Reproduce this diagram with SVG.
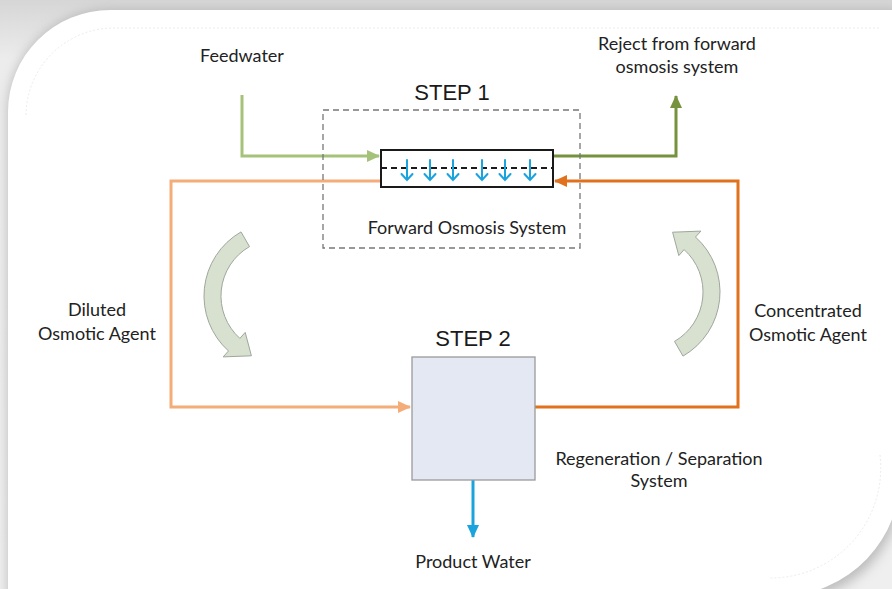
<svg xmlns="http://www.w3.org/2000/svg" width="892" height="589" viewBox="0 0 892 589">
<style>
.lbl{font-family:Lato,"Open Sans","Liberation Sans",sans-serif;font-size:18px;fill:#222;text-anchor:middle}
.step{font-family:"Liberation Sans",Arial,sans-serif;font-size:22px;fill:#1a1a1a;text-anchor:middle}
.conn{fill:none;stroke-width:3}
.curv{fill:#d8e1cf;stroke:#9ea79c;stroke-width:1}
</style>
<defs>
<linearGradient id="bg" x1="0" y1="0" x2="0" y2="1">
<stop offset="0" stop-color="#d6d6d6"/>
<stop offset="0.1" stop-color="#ececec"/>
<stop offset="1" stop-color="#efefef"/>
</linearGradient>
<filter id="sh" x="-10%" y="-10%" width="120%" height="120%">
<feGaussianBlur stdDeviation="6"/>
</filter>
<marker id="mLg" markerUnits="userSpaceOnUse" markerWidth="14" markerHeight="14" refX="12" refY="7" orient="auto"><path d="M0,1 L13,7 L0,13 Z" fill="#a5c27a"/></marker>
<marker id="mDg" markerUnits="userSpaceOnUse" markerWidth="14" markerHeight="14" refX="12" refY="7" orient="auto"><path d="M0,1 L13,7 L0,13 Z" fill="#76923c"/></marker>
<marker id="mLo" markerUnits="userSpaceOnUse" markerWidth="14" markerHeight="14" refX="12" refY="7" orient="auto"><path d="M0,1 L13,7 L0,13 Z" fill="#f4ac78"/></marker>
<marker id="mDo" markerUnits="userSpaceOnUse" markerWidth="14" markerHeight="14" refX="12" refY="7" orient="auto"><path d="M0,1 L13,7 L0,13 Z" fill="#e2711d"/></marker>
<marker id="mB" markerUnits="userSpaceOnUse" markerWidth="14" markerHeight="14" refX="12" refY="7" orient="auto"><path d="M0,1 L13,7 L0,13 Z" fill="#1aa3dd"/></marker>
<path id="curl" d="M241,231.9 A74,74 0 0 0 228.5,351 L223.1,356.9 L251.4,355.8 L245.2,332.4 L239.9,338.4 A57,57 0 0 1 249.5,246.6 Z"/>
</defs>

<g id="background">
<rect x="0" y="0" width="892" height="589" fill="url(#bg)"/>
<path d="M8,112 A102,102 0 0 1 110,10 L900,10 L900,480 A112,112 0 0 1 788,600 L8,600 Z" fill="#9a9a9a" filter="url(#sh)" opacity="0.6"/>
<path d="M8,112 A102,102 0 0 1 110,10 L900,10 L900,470 A120,120 0 0 1 780,596 L8,596 Z" fill="#ffffff"/>
<path d="M26,115 A88,88 0 0 1 112,28 L880,28" fill="none" stroke="#ececec" stroke-width="1" stroke-dasharray="2,2"/>
<path d="M880,455 A110,110 0 0 1 770,578" fill="none" stroke="#ececec" stroke-width="1" stroke-dasharray="2,2"/>
</g>

<g id="connectors">
<path class="conn" d="M242,95 V156 H379" stroke="#a5c27a" marker-end="url(#mLg)"/>
<path class="conn" d="M553,156 H676 V96" stroke="#76923c" marker-end="url(#mDg)"/>
<path class="conn" d="M381,181 H171 V407 H410" stroke="#f4ac78" marker-end="url(#mLo)"/>
<path class="conn" d="M535,407 H738 V181 H555" stroke="#e2711d" marker-end="url(#mDo)"/>
<path class="conn" d="M473,480 V537" stroke="#1aa3dd" marker-end="url(#mB)"/>
</g>

<g id="step1">
<rect x="323" y="110" width="257" height="138" fill="none" stroke="#777" stroke-width="1.3" stroke-dasharray="6,4"/>
<text class="step" x="452" y="100">STEP 1</text>
<text class="lbl" x="467" y="234">Forward Osmosis System</text>
</g>

<g id="fo-module">
<rect x="381" y="150" width="172" height="37" fill="#fff" stroke="#1a1a1a" stroke-width="2"/>
<path d="M381,168 H553" stroke="#1a1a1a" stroke-width="2" stroke-dasharray="6,4" fill="none"/>
<g fill="none" stroke="#1aa3dd" stroke-width="2" stroke-linecap="round">
<path d="M407,160 V180 M401.5,174 L407,180 L412.5,174"/>
<path d="M430,160 V180 M424.5,174 L430,180 L435.5,174"/>
<path d="M453,160 V180 M447.5,174 L453,180 L458.5,174"/>
<path d="M482,160 V180 M476.5,174 L482,180 L487.5,174"/>
<path d="M505,160 V180 M499.5,174 L505,180 L510.5,174"/>
<path d="M530,160 V180 M524.5,174 L530,180 L535.5,174"/>
</g>
</g>

<g id="step2">
<text class="step" x="473" y="346">STEP 2</text>
<rect x="412" y="357" width="123" height="123" fill="#e3e8f3" stroke="#9a9a9a" stroke-width="1.3"/>
<text class="lbl" x="659" y="465">Regeneration / Separation</text>
<text class="lbl" x="659" y="487">System</text>
</g>

<g id="feedwater"><text class="lbl" x="242" y="62">Feedwater</text></g>
<g id="reject">
<text class="lbl" x="677" y="50">Reject from forward</text>
<text class="lbl" x="677" y="73">osmosis system</text>
</g>
<g id="diluted">
<text class="lbl" x="97" y="316">Diluted</text>
<text class="lbl" x="97" y="340">Osmotic Agent</text>
</g>
<g id="concentrated">
<text class="lbl" x="808" y="317">Concentrated</text>
<text class="lbl" x="808" y="341">Osmotic Agent</text>
</g>
<g id="product"><text class="lbl" x="473" y="568">Product Water</text></g>

<g id="curved-arrows">
<use href="#curl" class="curv"/>
<use href="#curl" class="curv" transform="rotate(180 462 294)"/>
</g>
</svg>
